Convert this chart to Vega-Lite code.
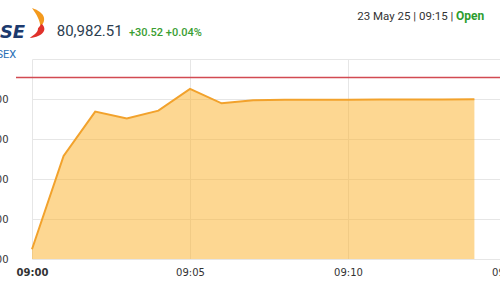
{
  "$schema": "https://vega.github.io/schema/vega-lite/v6.json",
  "width": 484,
  "height": 200,
  "autosize": {"type": "none"},
  "padding": {"left": 16, "top": 59, "right": 0, "bottom": 41},
  "background": "white",
  "config": {
    "view": {"stroke": null},
    "axis": {"labelOverlap": false, "labelSeparation": 0},
    "axisY": {"labelOverlap": false, "labelSeparation": 0}
  },
  "layer": [
    {
      "data": {"values": [
        {"time": "2025-05-23T09:00:00", "value": 80881.1},
        {"time": "2025-05-23T09:01:00", "value": 80939.4},
        {"time": "2025-05-23T09:02:00", "value": 80967.1},
        {"time": "2025-05-23T09:03:00", "value": 80962.9},
        {"time": "2025-05-23T09:04:00", "value": 80967.7},
        {"time": "2025-05-23T09:05:00", "value": 80981.3},
        {"time": "2025-05-23T09:06:00", "value": 80972.3},
        {"time": "2025-05-23T09:07:00", "value": 80974.2},
        {"time": "2025-05-23T09:08:00", "value": 80974.5},
        {"time": "2025-05-23T09:09:00", "value": 80974.6},
        {"time": "2025-05-23T09:10:00", "value": 80974.6},
        {"time": "2025-05-23T09:11:00", "value": 80974.7},
        {"time": "2025-05-23T09:12:00", "value": 80974.7},
        {"time": "2025-05-23T09:13:00", "value": 80974.7},
        {"time": "2025-05-23T09:14:00", "value": 80974.8}
      ]},
      "mark": {"type": "area", "color": "#fcb22e", "opacity": 0.52, "line": {"color": "#f2a22c", "strokeWidth": 2, "opacity": 1}},
      "encoding": {
        "x": {
          "field": "time", "type": "temporal",
          "scale": {
            "domain": [
              {"year": 2025, "month": 5, "date": 23, "hours": 9, "minutes": 0},
              {"year": 2025, "month": 5, "date": 23, "hours": 9, "minutes": 15}
            ],
            "range": [16, 490]
          },
          "axis": {
            "values": [
              {"year": 2025, "month": 5, "date": 23, "hours": 9, "minutes": 0},
              {"year": 2025, "month": 5, "date": 23, "hours": 9, "minutes": 5},
              {"year": 2025, "month": 5, "date": 23, "hours": 9, "minutes": 10},
              {"year": 2025, "month": 5, "date": 23, "hours": 9, "minutes": 15}
            ],
            "tickCount": 20,
            "format": "%H:%M",
            "title": null,
            "ticks": false,
            "domain": false,
            "grid": true,
            "gridColor": "#e6e6e6",
            "labelPadding": 8,
            "labelFlush": false,
            "labelOverlap": false,
            "labelFont": "DejaVu Sans",
            "labelFontSize": 10,
            "labelColor": "#333333",
            "labelFontWeight": {"condition": {"test": "minutes(datum.value) == 0", "value": "bold"}, "value": "normal"}
          }
        },
        "y": {
          "field": "value", "type": "quantitative",
          "scale": {"domain": [80875, 81000], "zero": false, "nice": false},
          "axis": {
            "values": [80875, 80900, 80925, 80950, 80975, 81000],
            "tickCount": 20,
            "labelExpr": "datum.value >= 81000 ? '' : format(datum.value, ',.2f')",
            "title": null,
            "ticks": false,
            "domain": false,
            "grid": true,
            "gridColor": "#e6e6e6",
            "labelPadding": 8,
            "labelFlush": false,
            "labelOverlap": false,
            "labelBound": false,
            "labelFont": "DejaVu Sans",
            "labelFontSize": 10,
            "labelColor": "#333333"
          }
        },
        "y2": {"datum": 80875}
      }
    },
    {
      "data": {"values": [{}]},
      "mark": {"type": "rule", "color": "#d24a52", "strokeWidth": 1.5},
      "encoding": {"y": {"datum": 80988.4, "type": "quantitative"}}
    },
    {
      "data": {"values": [{}]},
      "mark": {"type": "text", "align": "left", "baseline": "alphabetic", "font": "Roboto", "fontSize": 15, "color": "#2c3e50"},
      "encoding": {
        "x": {"datum": {"year": 2025, "month": 5, "date": 23, "hours": 9, "minutes": 0, "seconds": 47}, "type": "temporal"},
        "y": {"datum": 81014.4, "type": "quantitative"},
        "text": {"value": "80,982.51"}
      }
    },
    {
      "data": {"values": [{}]},
      "mark": {"type": "text", "align": "left", "baseline": "alphabetic", "font": "Roboto", "fontSize": 11, "fontWeight": 500, "color": "#3a9e32"},
      "encoding": {
        "x": {"datum": {"year": 2025, "month": 5, "date": 23, "hours": 9, "minutes": 3, "seconds": 4}, "type": "temporal"},
        "y": {"datum": 81014.4, "type": "quantitative"},
        "text": {"value": "+30.52 +0.04%"}
      }
    },
    {
      "data": {"values": [{}]},
      "mark": {"type": "text", "align": "right", "baseline": "alphabetic", "font": "Roboto", "fontSize": 11.5, "color": "#333333"},
      "encoding": {
        "x": {"datum": {"year": 2025, "month": 5, "date": 23, "hours": 9, "minutes": 13, "seconds": 20}, "type": "temporal"},
        "y": {"datum": 81024.4, "type": "quantitative"},
        "text": {"value": "23 May 25 | 09:15 |"}
      }
    },
    {
      "data": {"values": [{}]},
      "mark": {"type": "text", "align": "left", "baseline": "alphabetic", "font": "Roboto", "fontSize": 12, "fontWeight": "bold", "color": "#2e9d2e"},
      "encoding": {
        "x": {"datum": {"year": 2025, "month": 5, "date": 23, "hours": 9, "minutes": 13, "seconds": 25}, "type": "temporal"},
        "y": {"datum": 81024.4, "type": "quantitative"},
        "text": {"value": "Open"}
      }
    },
    {
      "data": {"values": [{}]},
      "mark": {"type": "text", "align": "right", "baseline": "alphabetic", "font": "DejaVu Sans", "fontSize": 18, "fontWeight": "bold", "fontStyle": "italic", "color": "#1c3a6e"},
      "encoding": {
        "x": {"datum": {"year": 2025, "month": 5, "date": 23, "hours": 8, "minutes": 59, "seconds": 47}, "type": "temporal"},
        "y": {"datum": 81013.1, "type": "quantitative"},
        "text": {"value": "BSE"}
      }
    },
    {
      "data": {"values": [{}]},
      "mark": {"type": "text", "align": "right", "baseline": "alphabetic", "font": "Roboto", "fontSize": 11, "color": "#2a6fb5"},
      "encoding": {
        "x": {"datum": {"year": 2025, "month": 5, "date": 23, "hours": 8, "minutes": 59, "seconds": 30}, "type": "temporal"},
        "y": {"datum": 81000.6, "type": "quantitative"},
        "text": {"value": "SENSEX"}
      }
    },
    {
      "data": {"values": [{}]},
      "mark": {"type": "point", "shape": "M-0.35,-1 C0.55,-0.7 0.65,-0.15 0.2,0.25 C0.2,-0.2 -0.05,-0.55 -0.35,-1 Z", "filled": true, "size": 900, "color": "#f39a1e", "opacity": 1, "strokeWidth": 0},
      "encoding": {
        "x": {"datum": {"year": 2025, "month": 5, "date": 23, "hours": 9, "minutes": 0, "seconds": 10}, "type": "temporal"},
        "y": {"datum": 81022.5, "type": "quantitative"}
      }
    },
    {
      "data": {"values": [{}]},
      "mark": {"type": "point", "shape": "M0.3,0.05 C0.7,0.45 0.4,0.9 -0.5,1 C-0.3,0.8 0.05,0.7 0.05,0.35 Z", "filled": true, "size": 900, "color": "#e0312b", "opacity": 1, "strokeWidth": 0},
      "encoding": {
        "x": {"datum": {"year": 2025, "month": 5, "date": 23, "hours": 9, "minutes": 0, "seconds": 10}, "type": "temporal"},
        "y": {"datum": 81022.5, "type": "quantitative"}
      }
    }
  ]
}
